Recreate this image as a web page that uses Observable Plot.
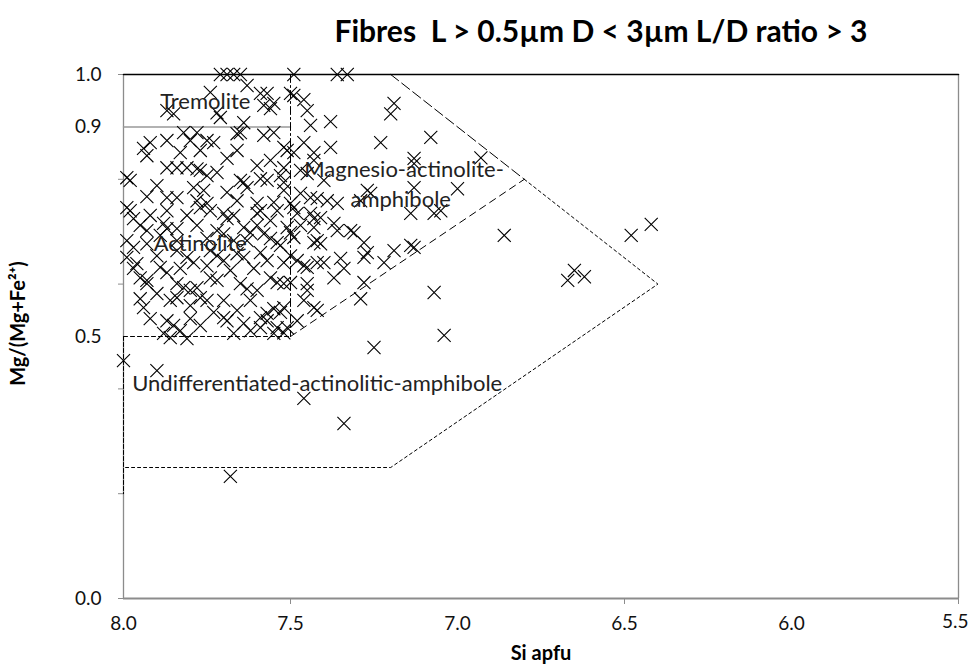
<!DOCTYPE html>
<html><head><meta charset="utf-8">
<script src="https://cdn.jsdelivr.net/npm/d3@7"></script>
<script src="https://cdn.jsdelivr.net/npm/@observablehq/plot@0.6"></script>
<style>body{margin:0;background:#fff}</style>
</head><body><div id="chart"></div>
<script>
// ---- data: [Si apfu, Mg/(Mg+Fe2+)] ----
const tremolitePts = [[7.71,1.000],[7.69,1.000],[7.67,1.000],[7.65,1.000],[7.74,0.966],[7.63,0.979],[7.59,0.964],[7.57,0.964],[7.55,0.945],[7.50,0.964],[7.87,0.931],[7.85,0.925],[7.72,0.927],[7.71,0.918],[7.58,0.941],[7.56,0.935],[7.64,0.908]];
const actinolitePts = [[7.82,0.889],[7.78,0.889],[7.75,0.874],[7.73,0.870],[7.66,0.887],[7.65,0.889],[7.58,0.884],[7.55,0.889],[7.92,0.870],[7.94,0.859],[7.93,0.845],[7.80,0.874],[7.66,0.855],[7.52,0.861],[7.51,0.855],[7.87,0.822],[7.84,0.822],[7.81,0.822],[7.78,0.820],[7.77,0.817],[7.72,0.813],[7.75,0.807],[7.99,0.803],[7.98,0.798],[7.65,0.798],[7.64,0.794],[7.63,0.784],[7.59,0.801],[7.57,0.798],[7.53,0.807],[7.52,0.794],[7.52,0.822],[7.79,0.784],[7.76,0.779],[7.87,0.765],[7.84,0.765],[7.78,0.759],[7.75,0.754],[7.60,0.754],[7.55,0.756],[7.50,0.754],[7.99,0.746],[7.52,0.779],[7.98,0.740],[7.97,0.725],[7.87,0.740],[7.77,0.746],[7.74,0.740],[7.70,0.735],[7.69,0.725],[7.60,0.735],[7.59,0.740],[7.88,0.716],[7.87,0.706],[7.84,0.706],[7.72,0.702],[7.70,0.696],[7.64,0.708],[7.62,0.698],[7.58,0.696],[7.56,0.687],[7.54,0.679],[7.50,0.698],[7.51,0.708],[7.99,0.683],[7.97,0.670],[7.93,0.677],[7.81,0.651],[7.79,0.641],[7.74,0.664],[7.72,0.654],[7.70,0.645],[7.66,0.658],[7.64,0.651],[7.59,0.660],[7.99,0.651],[7.96,0.639],[7.89,0.632],[7.87,0.622],[7.50,0.654],[7.95,0.612],[7.93,0.607],[7.84,0.601],[7.82,0.593],[7.80,0.588],[7.78,0.593],[7.74,0.612],[7.72,0.607],[7.65,0.601],[7.63,0.591],[7.56,0.612],[7.54,0.603],[7.52,0.601],[7.50,0.603],[7.52,0.555],[7.53,0.546],[7.51,0.517],[7.94,0.555],[7.86,0.569],[7.84,0.574],[7.77,0.574],[7.75,0.569],[7.70,0.569],[7.62,0.569],[7.55,0.553],[7.87,0.530],[7.85,0.521],[7.70,0.536],[7.69,0.530],[7.64,0.525],[7.59,0.536],[7.57,0.544],[7.54,0.517],[7.88,0.506],[7.55,0.506],[7.59,0.517],[7.57,0.530],
  [7.89,0.693],[7.84,0.683],[7.75,0.687],[7.67,0.683],[7.93,0.767],[7.90,0.788],[7.95,0.712],[7.92,0.731],[7.81,0.731],[7.66,0.759],[7.67,0.731],[7.56,0.721],[7.54,0.740],[7.69,0.775],[7.60,0.826],[7.56,0.836],[7.69,0.840],[7.77,0.855],[7.87,0.874],[7.83,0.851],[7.97,0.630],[7.93,0.601],[7.95,0.572],[7.92,0.534],[7.90,0.582],[7.80,0.559],[7.73,0.546],[7.66,0.550],[7.60,0.588],[7.68,0.626],[7.61,0.630],[7.57,0.645],[7.75,0.635],[7.83,0.630],[7.90,0.654],[7.84,0.664],[7.52,0.641],[7.53,0.674],[7.63,0.683],[7.78,0.712],[7.60,0.712],[7.83,0.511],[7.77,0.521],[7.67,0.506],[7.62,0.511],[7.52,0.507],[7.80,0.534],[7.93,0.702]];
const magnesioPts = [[7.49,1.000],[7.36,1.000],[7.33,1.000],[7.49,0.960],[7.46,0.952],[7.45,0.931],[7.19,0.945],[7.20,0.925],[7.44,0.903],[7.38,0.910],[7.49,0.851],[7.46,0.870],[7.43,0.851],[7.38,0.861],[7.23,0.870],[7.08,0.880],[7.13,0.840],[7.13,0.830],[6.93,0.841],[7.43,0.836],[7.47,0.817],[7.45,0.811],[7.00,0.782],[7.13,0.784],[7.47,0.773],[7.44,0.765],[7.42,0.763],[7.39,0.759],[7.36,0.754],[7.27,0.779],[7.26,0.773],[7.29,0.759],[7.49,0.746],[7.48,0.735],[7.44,0.735],[7.41,0.727],[7.14,0.735],[7.07,0.735],[7.05,0.740],[7.49,0.689],[7.43,0.725],[7.43,0.708],[7.37,0.716],[7.36,0.702],[7.32,0.702],[7.31,0.698],[7.48,0.645],[7.46,0.635],[7.28,0.679],[7.27,0.660],[7.28,0.651],[7.19,0.664],[7.14,0.674],[7.13,0.670],[7.22,0.641],[7.43,0.679],[7.41,0.677],[7.45,0.632],[7.42,0.641],[7.37,0.612],[7.28,0.603],[7.45,0.601],[7.46,0.569],[7.43,0.555],[7.42,0.550],
  [7.40,0.798],[7.42,0.683],[7.47,0.712],[7.40,0.641],[7.48,0.530],[7.35,0.649],[7.34,0.630],[7.45,0.588]];
const undiffPts = [[6.86,0.693],[7.29,0.572],[7.07,0.584],[7.86,0.498],[7.81,0.496],[7.04,0.502],[7.25,0.479],[8.00,0.454],[7.90,0.435],[7.46,0.382],[7.34,0.334],[7.68,0.233],[6.67,0.607],[6.65,0.626],[6.62,0.614],[6.48,0.693],[6.42,0.714]];

// ---- axes ----
const xTickLabels = [8.0, 7.5, 7.0, 6.5, 6.0];
const xLastLabel = [5.5];
const xTickMarks = [7.5, 6.5, 5.5];
const yTickLabels = [0.0, 0.5, 0.9, 1.0];
const yTickMarks = [0.0, 0.2, 0.4, 0.6, 0.8, 1.0];

// ---- classification boundaries (Si, Mg#) ----
const topEdge = [[8.0, 1.0], [5.5, 1.0]];
const tremoliteFloor = [[8.0, 0.9], [7.5, 0.9]];
const si75Line = [[7.5, 1.0], [7.5, 0.5]];
const mg05Line = [[8.0, 0.5], [7.5, 0.5]];
const mgActLower = [[7.5, 0.5], [6.8, 0.8]];
const mgActUpper = [[7.2, 1.0], [6.8, 0.8]];
const undiffOutline = [[6.8, 0.8], [6.4, 0.6], [7.2, 0.25], [8.0, 0.25]];
const leftDashed = [[8.0, 0.5], [8.0, 0.2]];

// ---- region names ----
const regionNames = ["Tremolite", "Magnesio-actinolite-", "amphibole", "Actinolite", "Undifferentiated-actinolitic-amphibole"];
const regionSi = [7.755, 7.16, 7.17, 7.77, 7.42];
const regionMg = [0.948, 0.817, 0.761, 0.676, 0.41];

const titleText = "Fibres  L > 0.5µm D < 3µm L/D ratio > 3";
const xLabel = "Si apfu";
const yLabel = "Mg/(Mg+Fe²⁺)";

const points = [...tremolitePts, ...actinolitePts, ...magnesioPts, ...undiffPts];
const font = "Lato, 'Open Sans', sans-serif";
const seg = (pts, opts) => Plot.line(pts, {x: d => d[0], y: d => d[1], ...opts});
const fmt = d3.format(".1f");

const chart = Plot.plot({
  width: 969, height: 672,
  marginLeft: 123, marginRight: 11, marginTop: 74, marginBottom: 74,
  style: {fontFamily: font, background: "#fff"},
  x: {domain: [8.0, 5.5], label: null},
  y: {domain: [0, 1], label: null},
  marks: [
    Plot.ruleX([8.0, 5.5], {y1: 0, y2: 1, stroke: "#8c8c8c", strokeWidth: 1.3}),
    Plot.ruleY([0], {x1: 8.0, x2: 5.5, stroke: "#8c8c8c", strokeWidth: 2}),
    Plot.axisX(xTickMarks, {tickSize: 6, tickFormat: () => "", stroke: "#8c8c8c", label: null}),
    Plot.axisX(xTickLabels, {tickSize: 0, tickPadding: 18, tickFormat: fmt, fontSize: 19, fill: "#111", label: null}),
    Plot.text(xLastLabel, {x: d => d, frameAnchor: "bottom", dy: 29, text: fmt, textAnchor: "end", dx: 10, fontSize: 19, fill: "#111"}),
    Plot.axisY(yTickMarks, {tickSize: 5, tickFormat: () => "", stroke: "#8c8c8c", label: null}),
    Plot.axisY(yTickLabels, {tickSize: 0, tickPadding: 22, tickFormat: fmt, fontSize: 19, fill: "#111", label: null}),
    seg(tremoliteFloor, {stroke: "#999", strokeWidth: 1.5}),
    seg(si75Line, {stroke: "#000", strokeWidth: 1, strokeDasharray: "8,3,2,3"}),
    seg(mg05Line, {stroke: "#000", strokeWidth: 1, strokeDasharray: "4,3"}),
    seg(mgActLower, {stroke: "#000", strokeWidth: 1, strokeDasharray: "7,5"}),
    seg(mgActUpper, {stroke: "#000", strokeWidth: 1, strokeDasharray: "10,4"}),
    seg(undiffOutline, {stroke: "#000", strokeWidth: 1, strokeDasharray: "3,3"}),
    seg(leftDashed, {stroke: "#000", strokeWidth: 1, strokeDasharray: "4,2"}),
    seg(topEdge, {stroke: "#000", strokeWidth: 1.5}),
    Plot.dot(points, {x: d => d[0], y: d => d[1], symbol: "times", r: 6, stroke: "#000", strokeWidth: 1.1}),
    Plot.text(regionNames, {x: (d, i) => regionSi[i], y: (d, i) => regionMg[i], text: d => d, fontSize: 22, fill: "#222", textAnchor: "middle"}),
    Plot.text([titleText], {frameAnchor: "top", dx: 60, dy: -54, fontSize: 30, fontWeight: "bold", fill: "#000"}),
    Plot.text([xLabel], {frameAnchor: "bottom", dy: 61, fontSize: 20, fontWeight: "bold", fill: "#000"}),
    Plot.text([yLabel], {frameAnchor: "left", textAnchor: "middle", dx: -105, dy: -13, rotate: -90, fontSize: 20, fontWeight: "bold", fill: "#000"})
  ]
});
document.getElementById("chart").appendChild(chart);
</script>
</body></html>
